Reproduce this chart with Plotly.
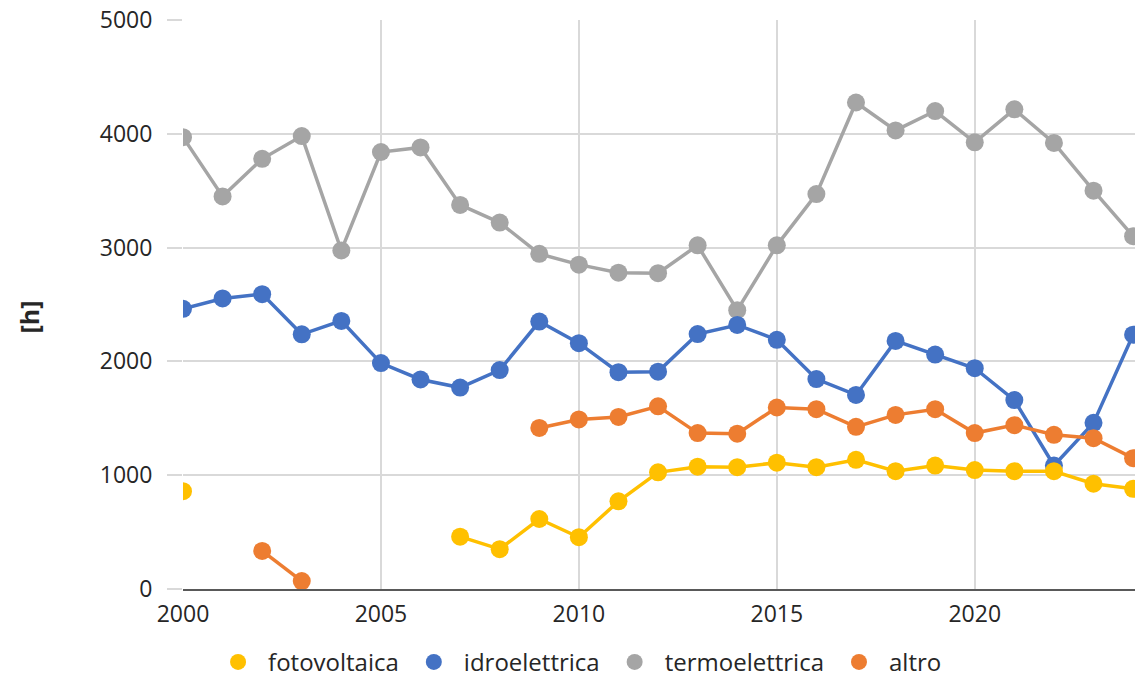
import plotly.graph_objects as go

years = list(range(2000, 2025))

fotovoltaica = [860, None, None, None, None, None, None, 460, 350, 615, 455,
                770, 1025, 1075, 1070, 1110, 1070, 1135, 1035, 1085, 1045,
                1035, 1035, 925, 880]
idroelettrica = [2462, 2553, 2591, 2238, 2356, 1985, 1841, 1770, 1924, 2350, 2160,
                 1905, 1910, 2240, 2320, 2190, 1845, 1705, 2180, 2060, 1940,
                 1660, 1085, 1460, 2235]
termoelettrica = [3970, 3450, 3780, 3980, 2975, 3840, 3880, 3375, 3220, 2945, 2850,
                  2780, 2775, 3020, 2450, 3020, 3470, 4275, 4030, 4200, 3925,
                  4215, 3920, 3500, 3100]
altro = [None, None, 335, 70, None, None, None, None, None, 1415, 1490,
         1512, 1605, 1370, 1365, 1595, 1580, 1425, 1530, 1580, 1370,
         1440, 1355, 1325, 1150]

series = [
    ("fotovoltaica", fotovoltaica, "#FFC000"),
    ("idroelettrica", idroelettrica, "#4472C4"),
    ("termoelettrica", termoelettrica, "#A5A5A5"),
    ("altro", altro, "#ED7D31"),
]

fig = go.Figure()
order = [2, 1, 3, 0]
for i in order:
    name, vals, col = series[i]
    fig.add_trace(go.Scatter(
        x=years, y=vals, mode="lines+markers", name=name,
        line=dict(color=col, width=3.5),
        marker=dict(color=col, size=18),
        connectgaps=False, showlegend=False,
    ))
for name, vals, col in series:
    fig.add_trace(go.Scatter(
        x=[None], y=[None], mode="markers", name=name,
        marker=dict(color=col, size=22), showlegend=True,
    ))

fig.update_layout(
    width=1143, height=683,
    margin=dict(l=175, r=8, t=12, b=102),
    plot_bgcolor="white", paper_bgcolor="white",
    font=dict(family="Open Sans", size=23, color="#262626"),
    legend=dict(orientation="h", xref="paper", x=0.411, xanchor="center",
                yref="container", y=0.042, yanchor="middle",
                font=dict(size=24, color="#262626"), itemwidth=50, tracegroupgap=0),
    annotations=[dict(text="<b>[h]</b>", textangle=-90, xref="paper", yref="paper",
                      x=-0.16, y=0.478, xanchor="center", yanchor="middle",
                      showarrow=False, font=dict(size=25, color="#262626"))],
)
fig.update_xaxes(
    range=[2000, 2024.25], tickvals=[2000, 2005, 2010, 2015, 2020],
    showgrid=True, gridcolor="#D9D9D9", gridwidth=2,
    showline=True, linecolor="#595959", linewidth=2,
    ticks="", tickfont=dict(size=23, color="#262626"), zeroline=False,
    ticklabelstandoff=3, ticklabeloverflow="allow", automargin=False,
)
fig.update_yaxes(
    range=[0, 5000], tickvals=[0, 1000, 2000, 3000, 4000, 5000],
    showgrid=True, gridcolor="#D9D9D9", gridwidth=2,
    ticks="outside", ticklen=15, tickcolor="#D9D9D9", tickwidth=2,
    tickfont=dict(size=23, color="#262626"), zeroline=False,
    ticklabelstandoff=10, ticklabeloverflow="allow", automargin=False,
)

fig.write_html("out.html")
